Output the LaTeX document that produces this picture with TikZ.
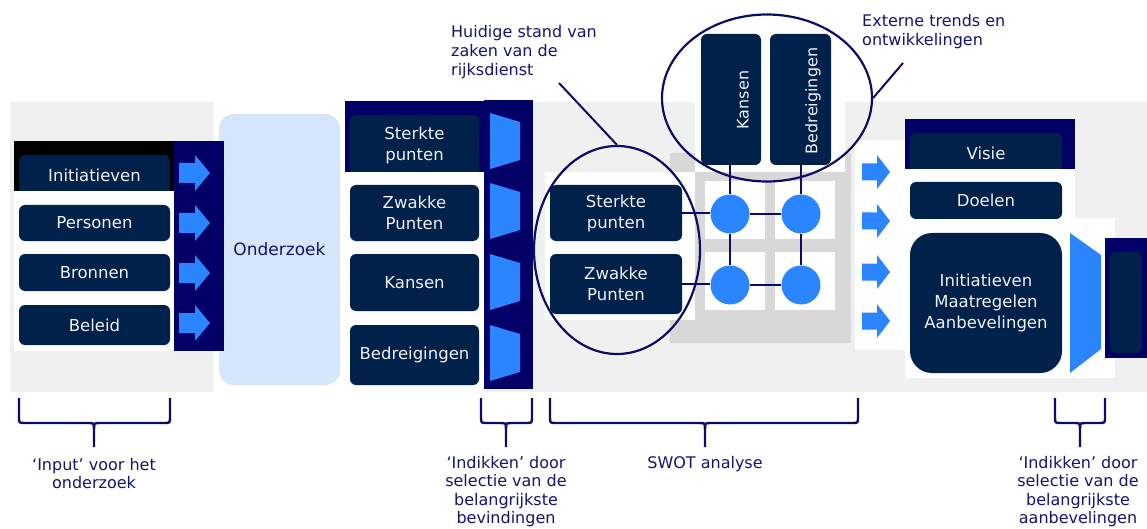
\documentclass[tikz,border=0pt]{standalone}
\usepackage{fontspec}
\setmainfont{DejaVu Sans}
\usetikzlibrary{shapes.geometric}
\definecolor{navy}{RGB}{0,0,102}
\definecolor{linec}{RGB}{12,12,100}
\definecolor{boxc}{RGB}{0,33,74}
\definecolor{boxtxt}{RGB}{240,240,245}
\definecolor{arrowc}{RGB}{43,133,255}
\definecolor{lgray}{RGB}{240,240,240}
\definecolor{dgray}{RGB}{216,216,216}
\definecolor{lblue}{RGB}{213,229,250}
\definecolor{txtc}{RGB}{20,20,110}
\tikzset{
 bluearrow/.pic={\fill[arrowc] (0,-10) -- (16,-10) -- (16,-18) -- (31,0) -- (16,18) -- (16,10) -- (0,10) -- cycle;},
 smallarrow/.pic={\fill[arrowc] (0,-8.5) -- (15,-8.5) -- (15,-17) -- (28,0) -- (15,17) -- (15,8.5) -- (0,8.5) -- cycle;},
 trap/.pic={\fill[arrowc] (0,-28) -- (30,-19) -- (30,19) -- (0,28) -- cycle;},
 box/.style={fill=boxc, rounded corners=6pt, text=boxtxt, align=center, inner sep=0pt, font=\fontsize{16.5}{21}\selectfont},
 lbl/.style={text=txtc, align=center, inner sep=0pt, font=\fontsize{16}{19.2}\selectfont},
 blbl/.style={text=txtc, align=center, inner sep=0pt, font=\fontsize{16}{18.4}\selectfont},
 conn/.style={draw=linec, line width=2pt},
 ring/.style={draw=linec, line width=2.2pt, ellipse, inner sep=0pt},
 bracestyle/.style={draw=linec, line width=2.4pt},
 dot/.style={circle, fill=arrowc, minimum size=39pt, inner sep=0pt},
 sq/.style={fill=white, minimum width=60pt, minimum height=58pt, inner sep=0pt}
}
\newcommand\mybrace[3]{%
 \draw[bracestyle] (#1,398) -- (#1,417) .. controls (#1,423) .. ({#1+6},423) -- ({#2-6},423) .. controls (#2,423) .. (#2,429) -- (#2,447);
 \draw[bracestyle] (#3,398) -- (#3,417) .. controls (#3,423) .. ({#3-6},423) -- ({#2+6},423) .. controls (#2,423) .. (#2,429);}
\begin{document}
\begin{tikzpicture}[x=1pt,y=-1pt]
\useasboundingbox (0,0) rectangle (1147,529);
% backgrounds
\fill[lgray] (10,102) rectangle (1147,392);
\fill[white] (214,95) rectangle (485,392);
\node[fill=lblue, rounded corners=15pt, minimum width=121pt, minimum height=271pt, inner sep=0pt, text=txtc, font=\fontsize{17}{20}\selectfont] (onder) at (279.5,249.5) {Onderzoek};

% left column
\fill[black] (14,141) rectangle (174,191);
\fill[white] (14,191) rectangle (174,351);
\fill[navy] (174,141) rectangle (224,351);
\begin{scope}
\clip (14,141) rectangle (174,191);
\node[box, minimum width=151pt, minimum height=40pt] (init) at (94.5,175) {Initiatieven};
\end{scope}
\node[box, minimum width=151pt, minimum height=36pt] (pers) at (94.5,223) {Personen};
\node[box, minimum width=151pt, minimum height=37pt] (bron) at (94.5,272.5) {Bronnen};
\node[box, minimum width=151pt, minimum height=40pt] (bel) at (94.5,325) {Beleid};
\pic at (179,173) {bluearrow};
\pic at (179,223) {bluearrow};
\pic at (179,273) {bluearrow};
\pic at (179,323) {bluearrow};

% middle column
\fill[navy] (345,101) rectangle (484,172);
\fill[navy] (484,100) rectangle (533,389);
\begin{scope}
\clip (345,101) rectangle (484,172);
\node[box, minimum width=129pt, minimum height=60pt] (mst) at (414.5,145) {Sterkte\\punten};
\end{scope}
\node[box, minimum width=129pt, minimum height=56pt] (mzw) at (414.5,213) {Zwakke\\Punten};
\node[box, minimum width=129pt, minimum height=57pt] (mka) at (414.5,282.5) {Kansen};
\node[box, minimum width=129pt, minimum height=60pt] (mbe) at (414.5,355) {Bedreigingen};
\pic at (490,141) {trap};
\pic at (490,211) {trap};
\pic at (490,282) {trap};
\pic at (490,353) {trap};

% SWOT
\fill[dgray] (670,153) rectangle (851,343);
\fill[white] (695,95) rectangle (845,172);
\fill[white] (545,172) rectangle (695,320);
\node[sq] (q11) at (735,210) {};
\node[sq] (q12) at (805,210) {};
\node[sq] (q21) at (735,281) {};
\node[sq] (q22) at (805,281) {};
\node[box, minimum width=132pt, minimum height=56pt] (sw1) at (616,213) {Sterkte\\punten};
\node[box, minimum width=132pt, minimum height=60pt] (sw2) at (616,284) {Zwakke\\Punten};
\node[box, minimum width=60pt, minimum height=131pt] (kb) at (731,99.5) {};
\node[box, minimum width=61pt, minimum height=131pt] (bb) at (800.5,99.5) {};
\node[text=boxtxt, rotate=90, inner sep=0pt, font=\fontsize{16}{20}\selectfont] (kt) at (743,100) {Kansen};
\node[text=boxtxt, rotate=90, inner sep=0pt, font=\fontsize{16}{20}\selectfont] (bt) at (813,101) {Bedreigingen};
\node[dot] (c11) at (730,214) {};
\node[dot] (c12) at (801,214) {};
\node[dot] (c21) at (730,285) {};
\node[dot] (c22) at (801,285) {};
\draw[conn] (sw1.east) -- (sw1.east -| c11.west);
\draw[conn] (sw2.east) -- (sw2.east -| c21.west);
\draw[conn] (c11) -- (c12);
\draw[conn] (c21) -- (c22);
\draw[conn] (c11) -- (c21);
\draw[conn] (c12) -- (c22);
\draw[conn] (c11.north |- kb.south) -- (c11.north);
\draw[conn] (c12.north |- bb.south) -- (c12.north);

% right column
\fill[white] (855,140) rectangle (905,350);
\fill[white] (905,168) rectangle (1075,218);
\fill[white] (905,218) rectangle (1115,378);
\fill[navy] (905,119) rectangle (1075,169);
\begin{scope}
\clip (905,119) rectangle (1075,169);
\node[box, minimum width=152pt, minimum height=40pt] (visie) at (986,153) {Visie};
\end{scope}
\node[box, minimum width=152pt, minimum height=37pt] (doel) at (986,200.5) {Doelen};
\node[box, rounded corners=22pt, minimum width=152pt, minimum height=140pt] (imz) at (986,303) {Initiatieven\\Maatregelen\\Aanbevelingen};
\fill[arrowc] (1070,233) -- (1101,255) -- (1101,349) -- (1070,373) -- cycle;
\fill[navy] (1105,238) rectangle (1147,358);
\node[box, minimum width=32pt, minimum height=101pt] (rb) at (1126,302.5) {};
\pic at (862,172) {smallarrow};
\pic at (862,221) {smallarrow};
\pic at (862,272) {smallarrow};
\pic at (862,321) {smallarrow};

% rings and callouts
\node[ring, minimum width=166pt, minimum height=208pt] (e1) at (617,250) {};
\node[ring, minimum width=210pt, minimum height=167pt] (e2) at (767,98) {};
\node[lbl, align=left, anchor=north west] (huid) at (451,25) {Huidige stand van\\zaken van de\\rijksdienst};
\coordinate (hp) at (559,83);
\draw[conn] (hp) -- (e1.north);
\node[lbl, align=left, anchor=north west] (ext) at (862,14) {Externe trends en\\ontwikkelingen};
\coordinate (ep) at (903,63);
\draw[conn] (e2.east) -- (ep);

% braces and bottom labels
\mybrace{19}{94}{170}
\mybrace{481}{506}{532}
\mybrace{550}{705}{858}
\mybrace{1055}{1080}{1105}
\node[blbl, anchor=north] (l1) at (94,458) {`Input' voor het\\onderzoek};
\node[blbl, anchor=north] (l2) at (506,456) {`Indikken' door\\selectie van de\\belangrijkste\\bevindingen};
\node[blbl, anchor=north] (l3) at (705,456) {SWOT analyse};
\node[blbl, anchor=north] (l4) at (1078,456) {`Indikken' door\\selectie van de\\belangrijkste\\aanbevelingen};
\end{tikzpicture}
\end{document}
